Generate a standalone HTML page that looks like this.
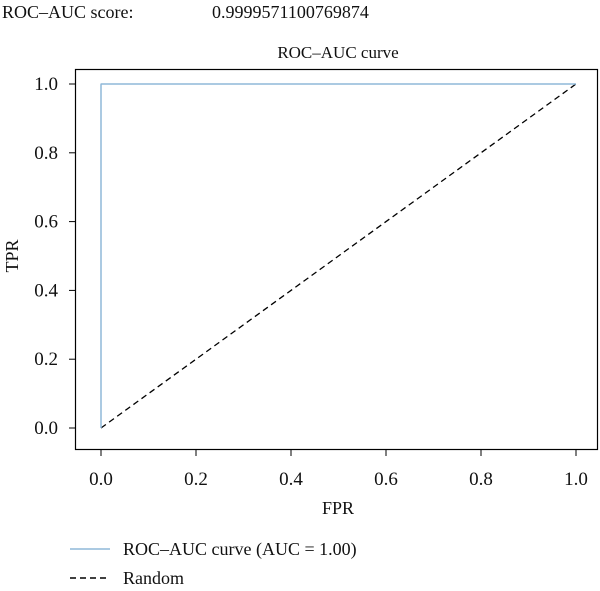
<!DOCTYPE html>
<html><head><meta charset="utf-8"><style>
body{margin:0;background:#fff;width:600px;height:586px;overflow:hidden}
svg text{font-family:"Liberation Serif",serif;fill:#111}
</style></head><body>
<svg width="600" height="586">
<text x="2" y="18" font-size="18">ROC–AUC score:</text>
<text x="212" y="18" font-size="18">0.9999571100769874</text>
<text x="338" y="58" font-size="17" text-anchor="middle">ROC–AUC curve</text>
<g id="plot"></g>
<text x="338" y="514" font-size="18" text-anchor="middle">FPR</text>
<text x="18" y="256" font-size="18" text-anchor="middle" transform="rotate(-90 18 256)">TPR</text>
<g>
<line x1="70" y1="549" x2="110" y2="549" stroke="#8fb8d8" stroke-width="1.5"/>
<text x="123" y="555" font-size="18">ROC–AUC curve (AUC = 1.00)</text>
<line x1="70" y1="578" x2="110" y2="578" stroke="#000" stroke-width="1.5" stroke-dasharray="6,4"/>
<text x="123" y="584" font-size="18">Random</text>
</g>
</svg>
<script>
const fpr=[0,0,0.0005,1];
const tpr=[0,0.998,1,1];
const randX=[0,1];
const randY=[0,1];
const ticks=[0,0.2,0.4,0.6,0.8,1.0];
const tickLabels=["0.0","0.2","0.4","0.6","0.8","1.0"];
const NS="http://www.w3.org/2000/svg";
const g=document.getElementById('plot');
const xs=v=>101+v*475, ys=v=>428-v*344;
function el(t,a){const e=document.createElementNS(NS,t);for(const k in a)e.setAttribute(k,a[k]);g.appendChild(e);return e;}
const frame=el('rect',{x:75.5,y:69.5,width:522,height:380,fill:'none',stroke:'#000','stroke-width':1.2});


ticks.forEach((t,i)=>{
 const a=el('line',{x1:xs(t),x2:xs(t),y1:450,y2:456,stroke:'#000'});
 
 
 const b=el('text',{x:xs(t),y:485,'font-size':19,'text-anchor':'middle'});b.textContent=tickLabels[i];
 
 
 const c=el('line',{x1:69,x2:75,y1:ys(t),y2:ys(t),stroke:'#000'});
 
 
 const d=el('text',{x:58,y:ys(t)+6,'font-size':19,'text-anchor':'end'});d.textContent=tickLabels[i];
 
 
});
const r=el('polyline',{points:randX.map((x,i)=>xs(x)+','+ys(randY[i])).join(' '),fill:'none',stroke:'#000','stroke-width':1.3,'stroke-dasharray':'6,4'});


const p=el('polyline',{points:fpr.map((x,i)=>xs(x)+','+ys(tpr[i])).join(' '),fill:'none',stroke:'#8fb8d8','stroke-width':1.5});


</script>
</body></html>
